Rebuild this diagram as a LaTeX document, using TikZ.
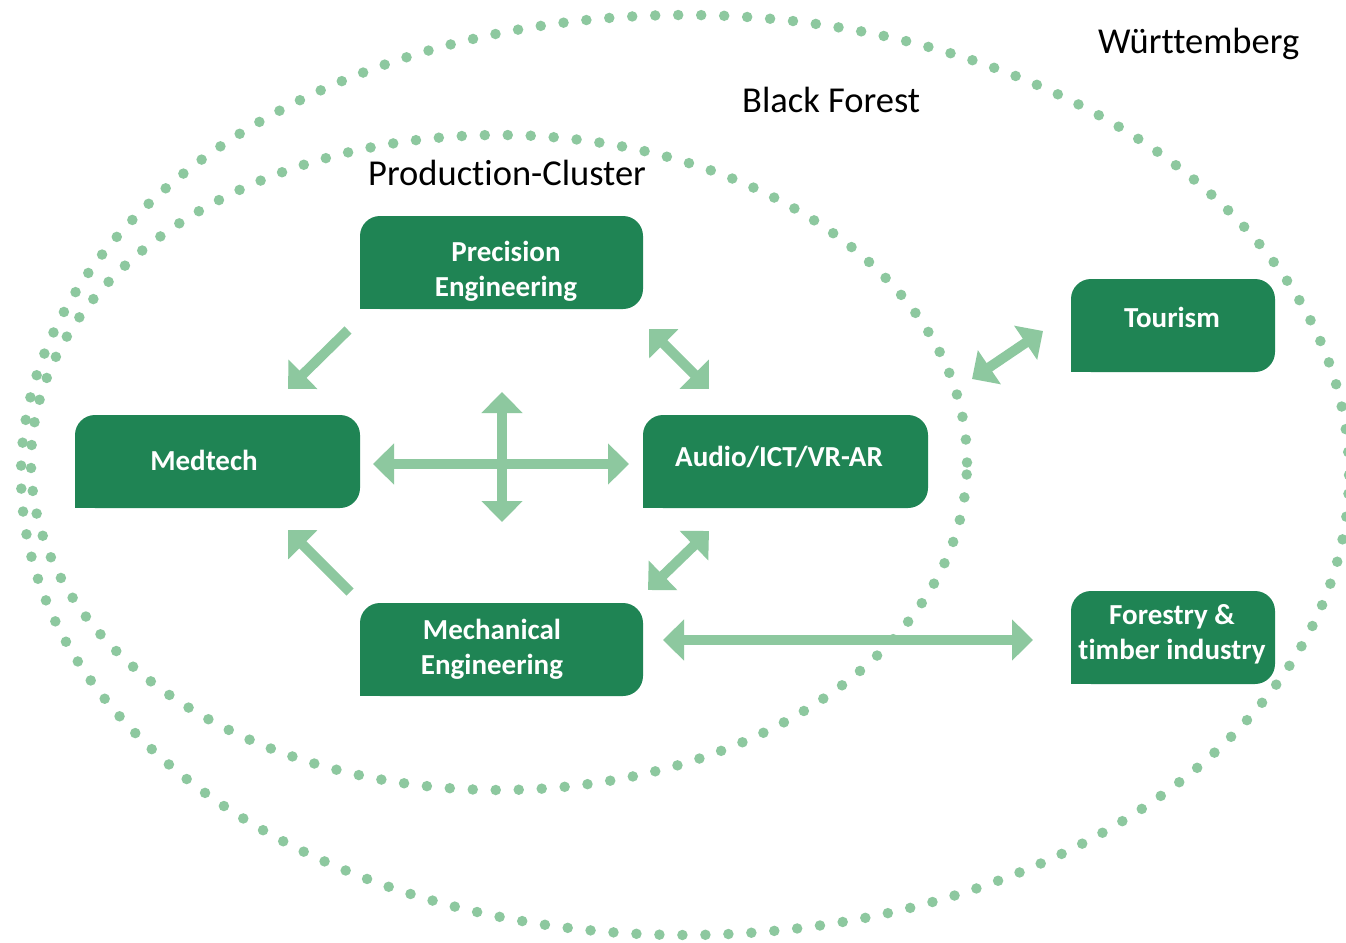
\documentclass[tikz,border=0pt]{standalone}
\usepackage{fontspec}
\setmainfont{Carlito}[Ligatures=NoCommon]
\usetikzlibrary{arrows.meta}
\definecolor{boxgreen}{RGB}{31,132,84}
\definecolor{lightgreen}{RGB}{141,200,159}
\begin{document}
\begin{tikzpicture}[x=1pt,y=-1pt,
  box/.style={fill=boxgreen, rounded corners=20pt, inner sep=0pt, minimum height=93pt},
  boxtext/.style={text=white, font=\fontsize{29}{34.5}\selectfont\bfseries, align=center, inner sep=0pt},
  lbl/.style={font=\fontsize{36.5}{40}\selectfont, anchor=base west, inner sep=0pt},
  dots/.style={draw=lightgreen, line width=10.5pt, line cap=round, dash pattern=on 0pt off 23pt},
  link/.style={draw=lightgreen, line width=10pt, -{Triangle[width=40pt,length=21pt]}},
  link2/.style={draw=lightgreen, line width=10pt, {Triangle[width=40pt,length=21pt]}-{Triangle[width=40pt,length=21pt]}},
]
\useasboundingbox[fill=white] (0,0) rectangle (1346,942);

% regions
\draw[dots] (685,475) ellipse [x radius=664pt, y radius=460pt];
\draw[dots] (499,462.5) ellipse [x radius=468pt, y radius=327.5pt];

\node[lbl] (wue) at (1098,53) {Württemberg};
\node[lbl] (bf) at (742,112) {Black Forest};
\node[lbl] (pc) at (368,185) {Production-Cluster};

% boxes
\node[box, minimum width=283pt] (pe) at (501.5,262.5) {};
\node[box, minimum width=285pt] (md) at (217.5,461.5) {};
\node[box, minimum width=285pt] (au) at (785.5,461.5) {};
\node[box, minimum width=283pt] (me) at (501.5,649.5) {};
\node[box, minimum width=204pt] (to) at (1173,325.5) {};
\node[box, minimum width=204pt] (fo) at (1173,637.5) {};
\foreach \b in {pe,md,au,me,to,fo}{
  \fill[boxgreen] (\b.south west) rectangle ++(25,-25);
}

\node[boxtext] (pe-t) at (506,271.5) {Precision\\Engineering};
\node[boxtext] (md-t) at (204,460) {Medtech};
\node[boxtext] (au-t) at (779,457) {Audio/ICT/VR-AR};
\node[boxtext] (me-t) at (492,649.5) {Mechanical\\Engineering};
\node[boxtext] (to-t) at (1172,317) {Tourism};
\node[boxtext] (fo-t) at (1172,634.5) {Forestry \&\\timber industry};

% connector end points
\coordinate (pm1) at (348,330);  \coordinate (pm2) at (288,389);
\coordinate (mm1) at (350,592);  \coordinate (mm2) at (288,530);
\coordinate (pa1) at (649,329);  \coordinate (pa2) at (709,389);
\coordinate (ma1) at (648,590);  \coordinate (ma2) at (709,531);
\coordinate (h1) at (373,464);   \coordinate (h2) at (629,464);
\coordinate (v1) at (502,392);   \coordinate (v2) at (502,522);
\coordinate (t1) at (972,379);   \coordinate (t2) at (1043,331);
\coordinate (f1) at (663,640);   \coordinate (f2) at (1033,640);

\draw[link] (pm1) -- (pm2);
\draw[link] (mm1) -- (mm2);
\draw[link2] (pa1) -- (pa2);
\draw[link2] (ma1) -- (ma2);
\draw[link2] (h1) -- (h2);
\draw[link2] (v1) -- (v2);
\draw[link2] (t1) -- (t2);
\draw[link2] (f1) -- (f2);
\end{tikzpicture}
\end{document}
